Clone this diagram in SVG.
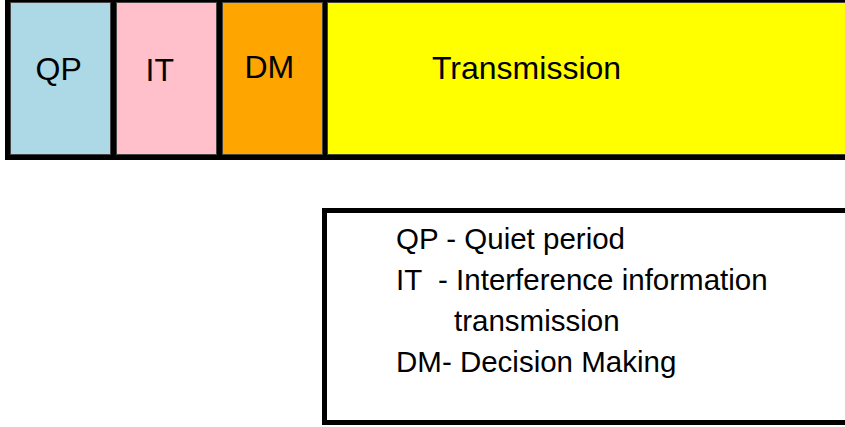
<svg xmlns="http://www.w3.org/2000/svg" width="845" height="427" viewBox="0 0 845 427">
  <style>
    .lbl { font-family: "Liberation Sans", Arial, sans-serif; font-size: 32px; fill: #000; }
    .leg { font-family: "Liberation Sans", Arial, sans-serif; font-size: 29.5px; fill: #000; }
    .cell { stroke: #444; stroke-width: 1; }
  </style>
  <rect width="845" height="427" fill="#fff"/>

  <!-- frame timeline bar -->
  <rect x="5" y="0" width="845" height="160" fill="#000"/>
  <g id="qp">
    <rect class="cell" x="10.5" y="2.5" width="100" height="152" fill="#ADD8E6"/>
    <text class="lbl" x="35.5" y="80">QP</text>
  </g>
  <g id="it">
    <rect class="cell" x="116.5" y="2.5" width="100" height="152" fill="#FFC0CB"/>
    <text class="lbl" x="145.5" y="81">IT</text>
  </g>
  <g id="dm">
    <rect class="cell" x="222.5" y="2.5" width="100" height="152" fill="#FFA500"/>
    <text class="lbl" x="244.5" y="78">DM</text>
  </g>
  <g id="transmission">
    <rect class="cell" x="327.5" y="2.5" width="530" height="152" fill="#FFFF00"/>
    <text class="lbl" x="432" y="79">Transmission</text>
  </g>

  <!-- legend -->
  <g id="legend">
    <rect x="324.5" y="210.5" width="540" height="212" fill="#fff" stroke="#000" stroke-width="5"/>
    <text class="leg" x="396" y="249">QP - Quiet period</text>
    <text class="leg" x="396" y="290" xml:space="preserve">IT  - Interference information</text>
    <text class="leg" x="454" y="331">transmission</text>
    <text class="leg" x="396" y="372">DM- Decision Making</text>
  </g>

  <g id="connectors"/>
</svg>
